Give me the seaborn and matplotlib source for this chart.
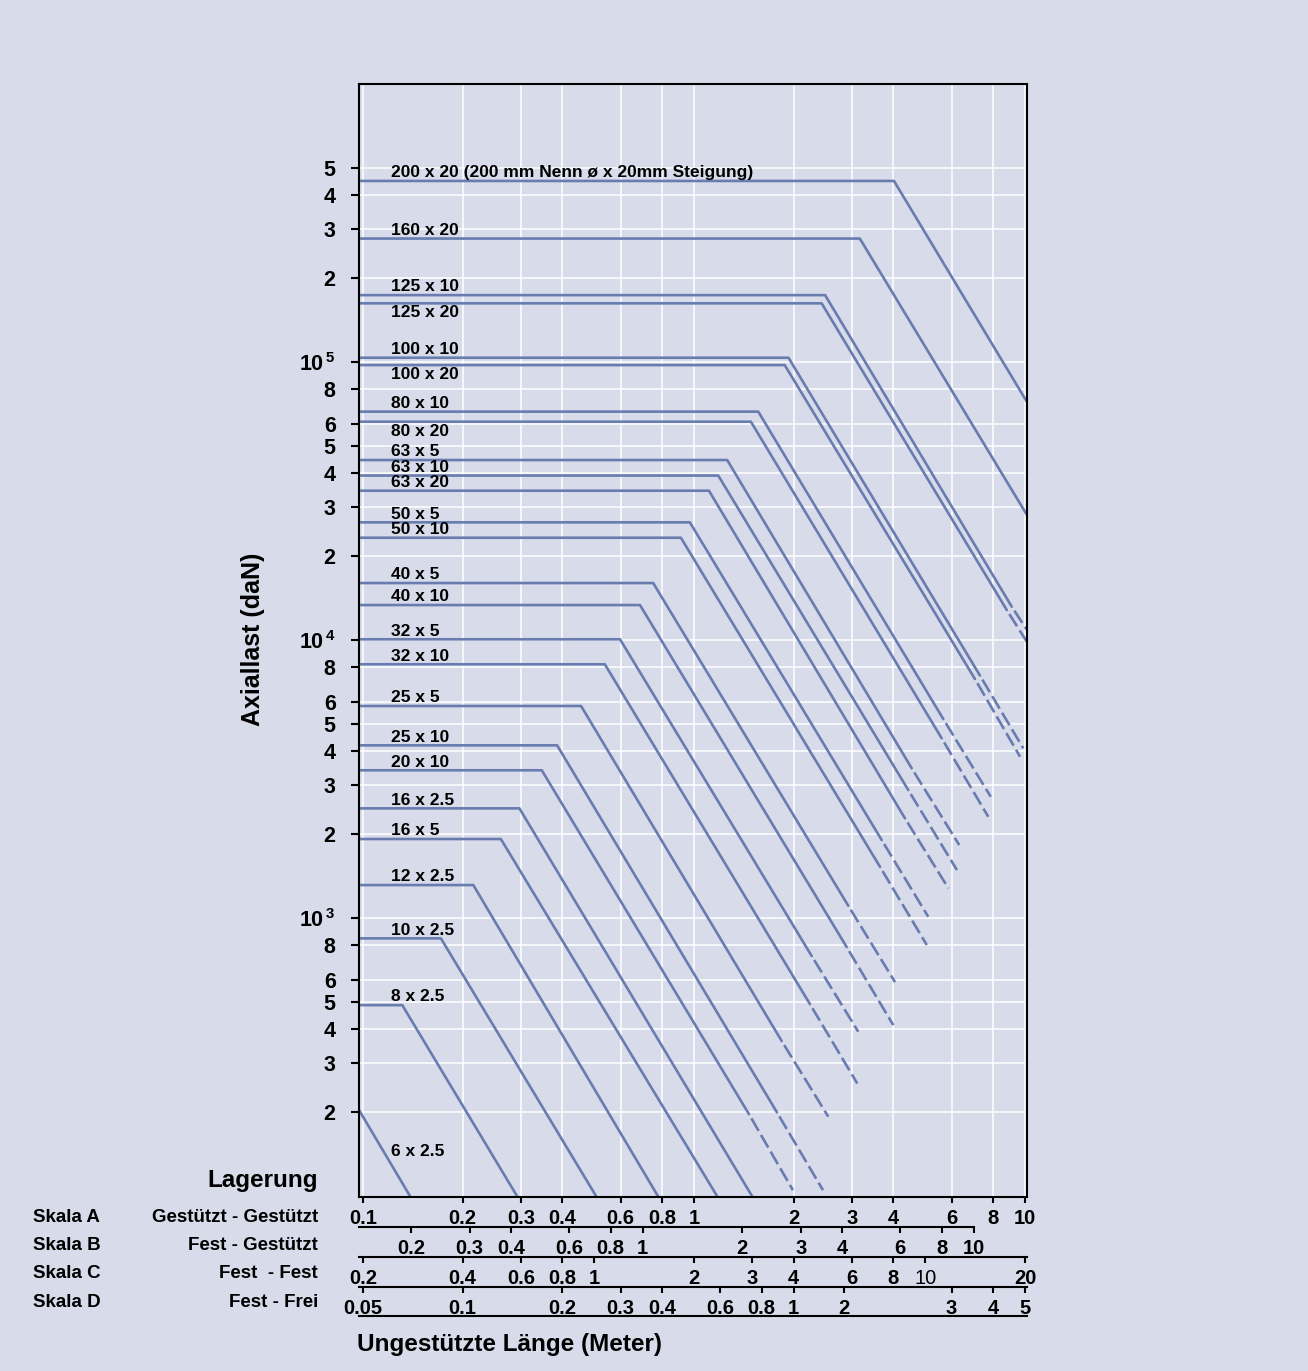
import numpy as np
import pandas as pd
import matplotlib
matplotlib.use("Agg")
import matplotlib.pyplot as plt
import seaborn as sns
from matplotlib.ticker import NullLocator


BG = "#d8dbe9"
LINE_COLOR = "#687cb0"

# spindle sizes: Nenn-ø x Steigung
SIZES = ["200 x 20 (200 mm Nenn ø x 20mm Steigung)", "160 x 20", "125 x 10", "125 x 20",
         "100 x 10", "100 x 20", "80 x 10", "80 x 20", "63 x 5", "63 x 10", "63 x 20",
         "50 x 5", "50 x 10", "40 x 5", "40 x 10", "32 x 5", "32 x 10", "25 x 5",
         "25 x 10", "20 x 10", "16 x 2.5", "16 x 5", "12 x 2.5", "10 x 2.5", "8 x 2.5",
         "6 x 2.5"]

# max axial load (daN) on the flat part
F_MAX = [448000, 278000, 174000, 162600, 103600, 97500, 66300, 61000, 44400, 39050,
         34440, 26500, 23330, 16030, 13360, 10060, 8180, 5790, 4180, 3400, 2480, 1924,
         1314, 845, 486, 204]
# length (scale A, m) where the buckling part starts
L_KNEE = [4.02, 3.17, 2.49, 2.43, 1.93, 1.88, 1.564, 1.486, 1.26, 1.184, 1.11, 0.972,
          0.913, 0.753, 0.687, 0.598, 0.538, 0.456, 0.386, 0.347, 0.297, 0.261, 0.2155,
          0.172, 0.1315, 0.0973]
# where the curve turns dashed (None = solid to the end)
L_DASH = [None, None, 9.12, 8.81, 7.31, 7.06, 5.665, 5.602, 4.548, 4.44, 4.34, 3.69,
          3.65, 2.925, 2.893, 2.268, 2.241, 1.841, 1.781, 1.466, None, None, None,
          None, None, None]
F_DASH = [None, None, 13180, 12820, 7450, 7240, 5196, 4430, 3455, 2886, 2283, 1908,
          1526, 1107, 786, 730, 490, 361, 200, 197, None, None, None, None, None, None]
# end of each curve
L_END = [10.14, 10.14, 10.14, 10.14, 9.88, 9.66, 7.88, 7.745, 6.33, 6.23, 5.87, 5.10,
         5.05, 4.05, 4.00, 3.135, 3.114, 2.545, 2.453, 1.99, 1.497, 1.174, 0.778, 0.506,
         0.292, 0.1387]
F_END = [71800, 28150, 10860, 9835, 4078, 3804, 2731, 2314, 1830, 1488, 1279, 1011,
         800, 588, 412, 390, 254, 193, 105, 105, 100, 100, 100, 100, 100, 100]

LABEL_SIDE = ["above", "above", "above", "below", "above", "below", "above", "below",
              "above", "above", "above", "above", "above", "above", "above", "above",
              "above", "above", "above", "above", "above", "above", "above", "above",
              "above", "free"]
LABEL_L = 0.1215
LABEL_FREE_F = 145

XLIM = (0.0973, 10.14)
YLIM = (99.2, 1.0e6)

X_TICKS = [0.1, 0.2, 0.3, 0.4, 0.6, 0.8, 1, 2, 3, 4, 6, 8, 10]
X_TICK_LABELS = ["0.1", "0.2", "0.3", "0.4", "0.6", "0.8", "1", "2", "3", "4", "6", "8", "10"]

Y_TICKS = [200, 300, 400, 500, 600, 800, 1e3, 2e3, 3e3, 4e3, 5e3, 6e3, 8e3, 1e4,
           2e4, 3e4, 4e4, 5e4, 6e4, 8e4, 1e5, 2e5, 3e5, 4e5, 5e5]
Y_TICK_LABELS = ["2", "3", "4", "5", "6", "8", r"$\mathbf{10}^{\,\mathbf{3}}$",
                 "2", "3", "4", "5", "6", "8", r"$\mathbf{10}^{\,\mathbf{4}}$",
                 "2", "3", "4", "5", "6", "8", r"$\mathbf{10}^{\,\mathbf{5}}$",
                 "2", "3", "4", "5"]

# bearing scales: effective length factor relative to scale A
FACTOR_B = 0.7   # Fest - Gestützt
FACTOR_C = 0.5   # Fest - Fest
FACTOR_D = 2.0   # Fest - Frei
B_TICKS = [0.2, 0.3, 0.4, 0.6, 0.8, 1, 2, 3, 4, 6, 8, 10]
B_LABELS = ["0.2", "0.3", "0.4", "0.6", "0.8", "1", "2", "3", "4", "6", "8", "10"]
C_TICKS = [0.2, 0.4, 0.6, 0.8, 1, 2, 3, 4, 6, 8, 10, 20]
C_LABELS = ["0.2", "0.4", "0.6", "0.8", "1", "2", "3", "4", "6", "8", "10", "20"]
# the "2" of scale D is printed left of its true place in the original sheet
D_TICKS = [0.05, 0.1, 0.2, 0.3, 0.4, 0.6, 0.8, 1, 1.42, 3, 4, 5]
D_LABELS = ["0.05", "0.1", "0.2", "0.3", "0.4", "0.6", "0.8", "1", "2", "3", "4", "5"]

SCALE_NAMES = ["Skala A", "Skala B", "Skala C", "Skala D"]
BEARINGS = ["Gestützt - Gestützt", "Fest - Gestützt", "Fest  - Fest", "Fest - Frei"]


sns.set_theme(style="darkgrid", rc={
    "axes.facecolor": BG,
    "figure.facecolor": BG,
    "grid.color": "white",
    "grid.linewidth": 1.1,
    "axes.edgecolor": "black",
    "axes.linewidth": 1.5,
    "xtick.color": "black",
    "ytick.color": "black",
    "text.color": "black",
    "axes.labelcolor": "black",
    "xtick.bottom": True,
    "ytick.left": True,
})
plt.rcParams["font.family"] = ["Liberation Sans", "DejaVu Sans"]
plt.rcParams["font.weight"] = "bold"
plt.rcParams["mathtext.fontset"] = "custom"
plt.rcParams["mathtext.bf"] = "Liberation Sans:bold"
plt.rcParams["mathtext.rm"] = "Liberation Sans:bold"

fig = plt.figure(figsize=(13.08, 13.71), dpi=100)
ax = fig.add_axes([0.27446, 0.12691, 0.51071, 0.81182])
ax.set_xscale("log")
ax.set_yscale("log")

solid_rows, dash_rows = [], []
for i, name in enumerate(SIZES):
    has_dash = L_DASH[i] is not None
    stop = (L_DASH[i], F_DASH[i]) if has_dash else (L_END[i], F_END[i])
    for l, f in [(XLIM[0], F_MAX[i]), (L_KNEE[i], F_MAX[i]), stop]:
        solid_rows.append({"size": name, "L": l, "F": f})
    if has_dash:
        for l, f in [(L_DASH[i], F_DASH[i]), (L_END[i], F_END[i])]:
            dash_rows.append({"size": name, "L": l, "F": f})
solid_df = pd.DataFrame(solid_rows)
dash_df = pd.DataFrame(dash_rows)

sns.lineplot(data=solid_df, x="L", y="F", units="size", estimator=None, sort=False,
             color=LINE_COLOR, lw=1.9, ax=ax, legend=False)
sns.lineplot(data=dash_df, x="L", y="F", units="size", estimator=None, sort=False,
             color=LINE_COLOR, lw=1.9, ax=ax, legend=False,
             linestyle=(5.5, (5.5, 1.8)))

for i, name in enumerate(SIZES):
    if LABEL_SIDE[i] == "free":
        ax.text(LABEL_L, LABEL_FREE_F, name, ha="left", va="center",
                fontsize=12.5, fontweight="bold")
        continue
    above = LABEL_SIDE[i] == "above"
    ax.annotate(name, (LABEL_L, F_MAX[i]), xytext=(0, 0.5 if above else -1.5),
                textcoords="offset points", ha="left",
                va="bottom" if above else "top", fontsize=12.5, fontweight="bold")

ax.set_xlim(*XLIM)
ax.set_ylim(*YLIM)
ax.set_xlabel("")
ax.set_ylabel("")

ax.set_xticks(X_TICKS, X_TICK_LABELS)
ax.set_yticks(Y_TICKS, Y_TICK_LABELS)
ax.xaxis.set_minor_locator(NullLocator())
ax.yaxis.set_minor_locator(NullLocator())
ax.tick_params(axis="x", length=4.3, width=1.5, pad=4, labelsize=14.5)
ax.tick_params(axis="y", length=5.8, width=1.5, pad=11, labelsize=15.5)
ax.grid(True, which="major", color="white", lw=1.1)
for side in ["left", "right", "top", "bottom"]:
    ax.spines[side].set_visible(True)
    ax.spines[side].set_color("black")
    ax.spines[side].set_linewidth(1.5)


def add_scale(loc, factor, ticks, labels, lo, hi):
    sec = ax.secondary_xaxis(loc, functions=(lambda a: a / factor, lambda b: b * factor))
    sec.set_xticks(ticks, labels)
    sec.xaxis.set_minor_locator(NullLocator())
    sec.tick_params(axis="x", length=4.3, width=1.5, pad=4, labelsize=14.5,
                    direction="out", colors="black")
    sec.spines["bottom"].set_bounds(lo, hi)
    sec.spines["bottom"].set_linewidth(1.5)
    sec.spines["bottom"].set_color("black")
    return sec


add_scale(-0.02695, FACTOR_B, B_TICKS, B_LABELS, XLIM[0] / FACTOR_B, 10)
sec_c = add_scale(-0.0539, FACTOR_C, C_TICKS, C_LABELS, XLIM[0] / FACTOR_C, XLIM[1] / FACTOR_C)
for lab in sec_c.get_xticklabels():
    if lab.get_text() == "10":
        lab.set_fontweight("normal")
add_scale(-0.0809, FACTOR_D, D_TICKS, D_LABELS, XLIM[0] / FACTOR_D, XLIM[1] / FACTOR_D)

under = ax.secondary_xaxis(-0.1069)
under.set_xticks([])
under.xaxis.set_minor_locator(NullLocator())
under.spines["bottom"].set_linewidth(1.5)
under.spines["bottom"].set_color("black")

fig.text(0.2431, 0.1386, "Lagerung", ha="right", va="center", fontsize=17.5, fontweight="bold")
for name, bearing, y in zip(SCALE_NAMES, BEARINGS, [0.1123, 0.0919, 0.0708, 0.0496]):
    fig.text(0.0252, y, name, ha="left", va="center", fontsize=13.5, fontweight="bold")
    fig.text(0.2431, y, bearing, ha="right", va="center", fontsize=13.5, fontweight="bold")

fig.text(0.1934, 0.5339, "Axiallast (daN)", rotation=90, ha="center", va="center",
         fontsize=18, fontweight="bold")
fig.text(0.2729, 0.019, "Ungestützte Länge (Meter)", ha="left", va="center",
         fontsize=17.5, fontweight="bold")

fig.savefig("out.png", dpi=100, facecolor=BG)
